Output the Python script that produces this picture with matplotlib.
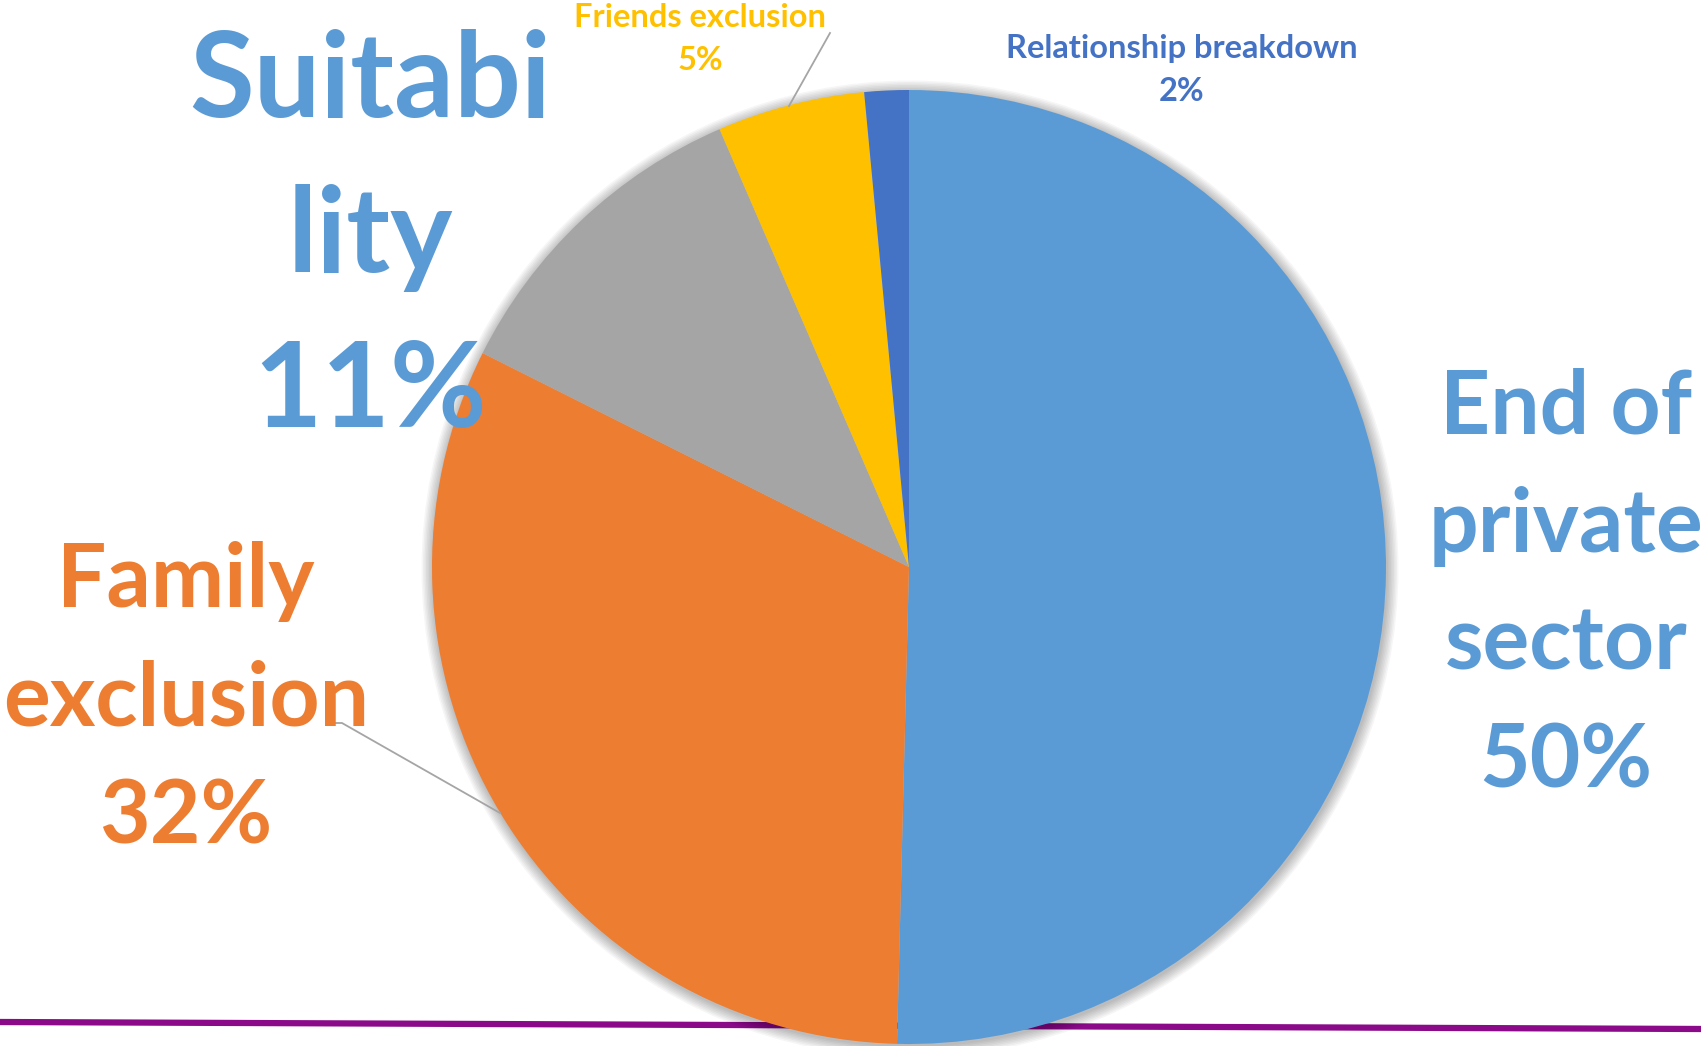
import matplotlib.pyplot as plt
from matplotlib.patches import Circle

# chart data
categories = ['End of private sector', 'Family exclusion', 'Suitability',
              'Friends exclusion', 'Relationship breakdown']
shares = [50.4, 32.0, 11.1, 5.0, 1.5]
pct_labels = ['50%', '32%', '11%', '5%', '2%']
label_lines = [['End of', 'private', 'sector'], ['Family', 'exclusion'],
               ['Suitabi', 'lity'], ['Friends exclusion'], ['Relationship breakdown']]

colors = ['#5B9BD5', '#ED7D31', '#A5A5A5', '#FFC000', '#4472C4']
text_colors = ['#5B9BD5', '#ED7D31', '#5B9BD5', '#FFC000', '#4472C4']

# label layout in pixels (x centre, first baseline, line step, font size pt)
label_x = [1566, 186, 370, 700, 1182]
label_y0 = [434, 607, 117, 27, 58]
label_step = [118, 118, 155, 43, 43]
label_size = [63, 63, 85, 23.5, 23.5]

W, H = 1701, 1046
cx, cy, r = 909, 567, 477

plt.rcParams['font.family'] = ['Lato', 'DejaVu Sans']

fig = plt.figure(figsize=(W / 100, H / 100), dpi=100)
ax = fig.add_axes([0, 0, 1, 1])

# purple rule behind the pie
ax.plot([0, W], [H - 1022, H - 1029], color='#8A0A8A', lw=4.5, zorder=1)

# soft shadow around pie
for i in range(8):
    ax.add_patch(Circle((cx + 1, H - cy - 2), r + 1 + i * 1.5, color='#000000',
                        alpha=0.035, lw=0, zorder=2))

ax.pie(shares, colors=colors, startangle=90, counterclock=False,
       center=(cx, H - cy), radius=r, frame=True,
       wedgeprops={'linewidth': 0, 'zorder': 3})
ax.set_xlim(0, W)
ax.set_ylim(0, H)
ax.axis('off')

for i in range(len(categories)):
    lines = label_lines[i] + [pct_labels[i]]
    for j, line in enumerate(lines):
        ax.text(label_x[i], H - (label_y0[i] + j * label_step[i]), line,
                ha='center', va='baseline', fontsize=label_size[i],
                fontweight='bold', color=text_colors[i], zorder=5)

# leader lines
ax.plot([830, 789], [H - 33, H - 106], color='#A5A5A5', lw=1.3, zorder=4)
ax.plot([333, 342, 500], [H - 723, H - 723, H - 813], color='#A5A5A5', lw=1.3, zorder=4)

fig.savefig('out.png', dpi=100)
